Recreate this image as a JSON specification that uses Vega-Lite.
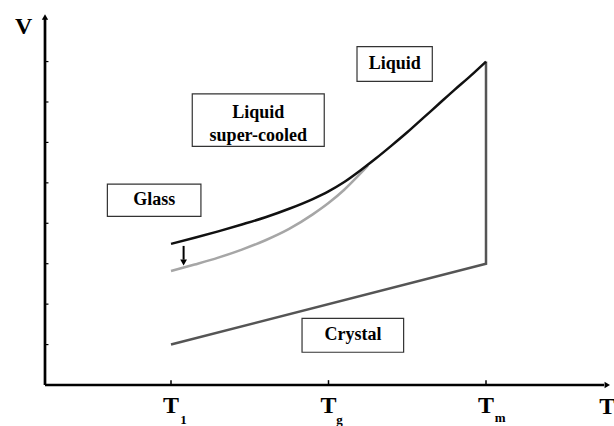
{
  "$schema": "https://vega.github.io/schema/vega-lite/v6.json",
  "width": 567,
  "height": 376,
  "autosize": {"type": "none"},
  "padding": {"left": 45, "top": 9, "right": 2, "bottom": 41},
  "background": "white",
  "config": {"view": {"stroke": null}},
  "datasets": {
    "liquid": [
      {"T": 1.0, "V": 3.49}, {"T": 1.15, "V": 3.64}, {"T": 1.3, "V": 3.8},
      {"T": 1.45, "V": 3.97}, {"T": 1.6, "V": 4.15}, {"T": 1.75, "V": 4.36},
      {"T": 1.9, "V": 4.6}, {"T": 2.0, "V": 4.79}, {"T": 2.1, "V": 5.02},
      {"T": 2.2, "V": 5.3}, {"T": 2.3, "V": 5.6}, {"T": 2.4, "V": 5.92},
      {"T": 2.5, "V": 6.25}, {"T": 2.6, "V": 6.6}, {"T": 2.7, "V": 6.95},
      {"T": 2.8, "V": 7.3}, {"T": 2.9, "V": 7.64}, {"T": 3.0, "V": 8.0}
    ],
    "glass": [
      {"T": 1.0, "V": 2.82}, {"T": 1.15, "V": 2.98}, {"T": 1.3, "V": 3.15},
      {"T": 1.45, "V": 3.35}, {"T": 1.6, "V": 3.58}, {"T": 1.75, "V": 3.86},
      {"T": 1.9, "V": 4.22}, {"T": 2.0, "V": 4.5}, {"T": 2.1, "V": 4.83},
      {"T": 2.2, "V": 5.22}, {"T": 2.25, "V": 5.43}
    ],
    "crystal": [
      {"i": 1, "T": 1.0, "V": 1.0}, {"i": 2, "T": 3.0, "V": 3.0}, {"i": 3, "T": 3.0, "V": 8.0}
    ],
    "boxes": [
      {"T1": 2.181, "T2": 2.659, "V1": 7.51, "V2": 8.37},
      {"T1": 1.135, "T2": 1.973, "V1": 5.9, "V2": 7.2},
      {"T1": 0.596, "T2": 1.19, "V1": 4.17, "V2": 4.97},
      {"T1": 1.832, "T2": 2.477, "V1": 0.81, "V2": 1.65}
    ],
    "boxlabels": [
      {"T": 2.42, "V": 7.95, "text": "Liquid"},
      {"T": 1.554, "V": 6.74, "text": "Liquid"},
      {"T": 1.554, "V": 6.15, "text": "super-cooled"},
      {"T": 0.893, "V": 4.58, "text": "Glass"},
      {"T": 2.155, "V": 1.24, "text": "Crystal"}
    ],
    "bigl": [
      {"T": 0.065, "V": 8.86, "text": "V"},
      {"T": 3.77, "V": -0.55, "text": "T"},
      {"T": 1.0, "V": -0.52, "text": "T"},
      {"T": 2.0, "V": -0.52, "text": "T"},
      {"T": 3.0, "V": -0.52, "text": "T"}
    ],
    "subl": [
      {"T": 1.08, "V": -0.86, "text": "1"},
      {"T": 2.07, "V": -0.86, "text": "g"},
      {"T": 3.09, "V": -0.82, "text": "m"}
    ],
    "yaxis": [{"T": 0.2, "V": 0, "V2": 9.05}],
    "xaxis": [{"T": 0.2, "T2": 3.75, "V": 0}],
    "yticks": [
      {"V": 1}, {"V": 2}, {"V": 3}, {"V": 4}, {"V": 5}, {"V": 6}, {"V": 7}, {"V": 8}
    ],
    "xticks": [{"T": 1}, {"T": 2}, {"T": 3}],
    "arrowsUp": [{"T": 0.2, "V": 9.1}],
    "arrowsRight": [{"T": 3.77, "V": 0}],
    "downarrow": [{"T": 1.08, "V": 3.44, "V2": 3.1}],
    "downhead": [{"T": 1.08, "V": 3.03}]
  },
  "encoding": {
    "x": {"type": "quantitative", "scale": {"domain": [0.2, 3.8], "nice": false, "zero": false}, "axis": null},
    "y": {"type": "quantitative", "scale": {"domain": [0, 9.3], "nice": false, "zero": false}, "axis": null}
  },
  "layer": [
    {
      "data": {"name": "boxes"},
      "mark": {"type": "rect", "fill": "white", "stroke": "#333333", "strokeWidth": 1.2},
      "encoding": {
        "x": {"field": "T1", "type": "quantitative"},
        "x2": {"field": "T2"},
        "y": {"field": "V1", "type": "quantitative"},
        "y2": {"field": "V2"}
      }
    },
    {
      "data": {"name": "boxlabels"},
      "mark": {"type": "text", "font": "Times New Roman, Liberation Serif, DejaVu Serif, serif", "fontWeight": "bold", "fontSize": 18, "color": "black", "baseline": "middle", "align": "center"},
      "encoding": {
        "x": {"field": "T", "type": "quantitative"},
        "y": {"field": "V", "type": "quantitative"},
        "text": {"field": "text"}
      }
    },
    {
      "data": {"name": "crystal"},
      "mark": {"type": "line", "color": "#555555", "strokeWidth": 2.5},
      "encoding": {
        "x": {"field": "T", "type": "quantitative"},
        "y": {"field": "V", "type": "quantitative"},
        "order": {"field": "i"}
      }
    },
    {
      "data": {"name": "glass"},
      "mark": {"type": "line", "color": "#a6a6a6", "strokeWidth": 2.5, "interpolate": "monotone"},
      "encoding": {
        "x": {"field": "T", "type": "quantitative"},
        "y": {"field": "V", "type": "quantitative"}
      }
    },
    {
      "data": {"name": "liquid"},
      "mark": {"type": "line", "color": "#111111", "strokeWidth": 2.5, "interpolate": "monotone"},
      "encoding": {
        "x": {"field": "T", "type": "quantitative"},
        "y": {"field": "V", "type": "quantitative"}
      }
    },
    {
      "data": {"name": "downarrow"},
      "mark": {"type": "rule", "color": "black", "strokeWidth": 2},
      "encoding": {
        "x": {"field": "T", "type": "quantitative"},
        "y": {"field": "V", "type": "quantitative"},
        "y2": {"field": "V2"}
      }
    },
    {
      "data": {"name": "downhead"},
      "mark": {"type": "point", "shape": "triangle-down", "filled": true, "color": "black", "size": 45, "opacity": 1},
      "encoding": {
        "x": {"field": "T", "type": "quantitative"},
        "y": {"field": "V", "type": "quantitative"}
      }
    },
    {
      "data": {"name": "yaxis"},
      "mark": {"type": "rule", "color": "black", "strokeWidth": 2.7},
      "encoding": {
        "x": {"field": "T", "type": "quantitative"},
        "y": {"field": "V", "type": "quantitative"},
        "y2": {"field": "V2"}
      }
    },
    {
      "data": {"name": "xaxis"},
      "mark": {"type": "rule", "color": "black", "strokeWidth": 2.7},
      "encoding": {
        "x": {"field": "T", "type": "quantitative"},
        "x2": {"field": "T2"},
        "y": {"field": "V", "type": "quantitative"}
      }
    },
    {
      "data": {"name": "yticks"},
      "mark": {"type": "rule", "color": "black", "strokeWidth": 1.2},
      "encoding": {
        "x": {"datum": 0.2},
        "x2": {"datum": 0.222},
        "y": {"field": "V", "type": "quantitative"}
      }
    },
    {
      "data": {"name": "xticks"},
      "mark": {"type": "rule", "color": "black", "strokeWidth": 1.5},
      "encoding": {
        "x": {"field": "T", "type": "quantitative"},
        "y": {"datum": 0},
        "y2": {"datum": 0.12}
      }
    },
    {
      "data": {"name": "arrowsUp"},
      "mark": {"type": "point", "shape": "triangle-up", "filled": true, "color": "black", "size": 40, "opacity": 1},
      "encoding": {
        "x": {"field": "T", "type": "quantitative"},
        "y": {"field": "V", "type": "quantitative"}
      }
    },
    {
      "data": {"name": "arrowsRight"},
      "mark": {"type": "point", "shape": "triangle-right", "filled": true, "color": "black", "size": 40, "opacity": 1},
      "encoding": {
        "x": {"field": "T", "type": "quantitative"},
        "y": {"field": "V", "type": "quantitative"}
      }
    },
    {
      "data": {"name": "bigl"},
      "mark": {"type": "text", "font": "Times New Roman, Liberation Serif, DejaVu Serif, serif", "fontWeight": "bold", "fontSize": 24, "color": "black", "baseline": "middle", "align": "center"},
      "encoding": {
        "x": {"field": "T", "type": "quantitative"},
        "y": {"field": "V", "type": "quantitative"},
        "text": {"field": "text"}
      }
    },
    {
      "data": {"name": "subl"},
      "mark": {"type": "text", "font": "Times New Roman, Liberation Serif, DejaVu Serif, serif", "fontWeight": "bold", "fontSize": 13, "color": "black", "baseline": "middle", "align": "center"},
      "encoding": {
        "x": {"field": "T", "type": "quantitative"},
        "y": {"field": "V", "type": "quantitative"},
        "text": {"field": "text"}
      }
    }
  ]
}
